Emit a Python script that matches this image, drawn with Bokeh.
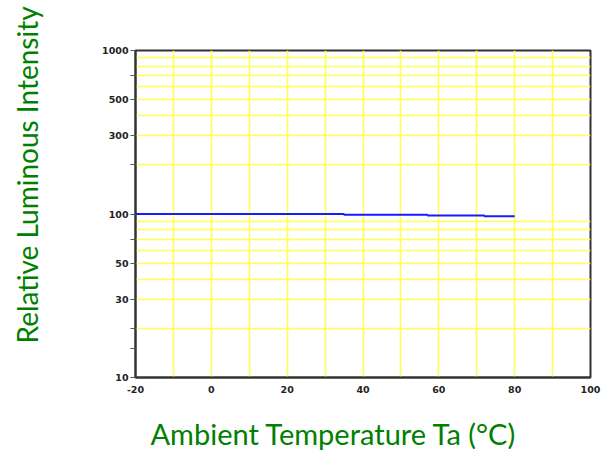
from bokeh.plotting import figure
from bokeh.models import Range1d, FixedTicker, Title
from bokeh.embed import file_html
from bokeh.resources import INLINE

# ---- data ----
temperature = [-20, 35, 57, 72, 80]
intensity = [100, 99, 98, 97, 97]

x_tick_values = [-20, 0, 20, 40, 60, 80, 100]
x_tick_labels = ["-20", "0", "20", "40", "60", "80", "100"]
y_tick_values = [10, 30, 50, 100, 300, 500, 1000]
y_tick_labels = ["10", "30", "50", "100", "300", "500", "1000"]
y_unlabeled_ticks = [15, 20, 70, 200, 700]
x_grid_values = [-10, 0, 10, 20, 30, 40, 50, 60, 70, 80, 90]
y_grid_values = [20, 30, 40, 50, 60, 70, 80, 90, 200, 300, 400, 500, 600, 700, 800, 900]

x_title = "Ambient Temperature Ta (°C)"
y_title = "Relative Luminous Intensity"

GREEN = "#008000"
TITLE_FONT = "Lato"

p = figure(width=604, height=456, output_backend="svg", toolbar_location=None,
           y_axis_type="log", x_range=Range1d(-20, 100), y_range=Range1d(10, 1000),
           min_border_left=135, min_border_right=14, min_border_top=50, min_border_bottom=79)
p.background_fill_color = "white"
p.border_fill_color = "white"
p.outline_line_color = "#333333"
p.outline_line_width = 2

# grids
p.xgrid.ticker = FixedTicker(ticks=x_grid_values)
p.ygrid.ticker = FixedTicker(ticks=y_grid_values)
for g in (p.xgrid, p.ygrid):
    g.grid_line_color = "#ffff55"
    g.grid_line_width = 1.6

# x axis
xa = p.xaxis[0]
xa.ticker = FixedTicker(ticks=x_tick_values)
xa.major_label_overrides = {v: s for v, s in zip(x_tick_values, x_tick_labels)}
xa.major_tick_out = 0
xa.major_tick_in = 0
xa.minor_tick_out = 0
xa.minor_tick_in = 0
xa.major_label_standoff = 8

# y axis
ya = p.yaxis[0]
all_y = sorted(y_tick_values + y_unlabeled_ticks)
ya.ticker = FixedTicker(ticks=all_y)
overrides = {v: "" for v in y_unlabeled_ticks}
overrides.update({v: s for v, s in zip(y_tick_values, y_tick_labels)})
ya.major_label_overrides = overrides
ya.major_tick_out = 5
ya.major_tick_in = 0
ya.minor_tick_out = 0
ya.minor_tick_in = 0
ya.major_label_standoff = 2

for ax in (xa, ya):
    ax.axis_line_color = "#333333"
    ax.axis_line_width = 2
    ax.major_tick_line_color = "#555555"
    ax.major_tick_line_width = 1
    ax.major_label_text_font = "DejaVu Sans"
    ax.major_label_text_font_style = "bold"
    ax.major_label_text_font_size = "9.5px"
    ax.major_label_text_color = "#222222"

# data line
p.step(temperature, intensity, mode="after", line_color="#1a1aff", line_width=2)

# spacers so that the axis titles sit near the outer edges
p.add_layout(Title(text=" ", text_font_size="10px", standoff=3), "below")
p.add_layout(Title(text=" ", text_font_size="10px", standoff=33), "left")

# axis titles
p.add_layout(Title(text=x_title, align="left", offset=15, vertical_align="bottom",
                   standoff=4, text_font=TITLE_FONT, text_font_size="29px",
                   text_font_style="normal", text_color=GREEN), "below")
p.add_layout(Title(text=y_title, align="left", offset=34, vertical_align="top",
                   standoff=16, text_font=TITLE_FONT, text_font_size="28px",
                   text_font_style="normal", text_color=GREEN), "left")

open("out.html", "w").write(file_html(p, INLINE))
